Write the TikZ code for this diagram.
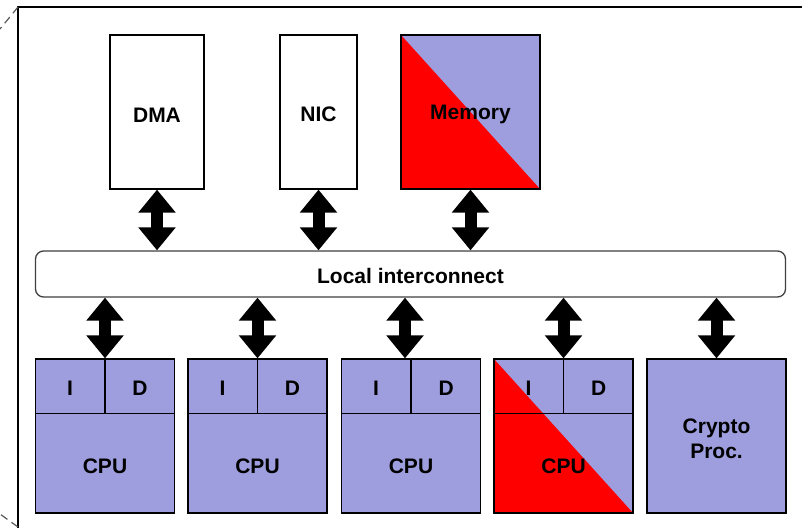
\documentclass[tikz,border=0pt]{standalone}
\usepackage{fontspec}
\setmainfont{Liberation Sans}
\usetikzlibrary{arrows.meta,calc}
\definecolor{lav}{HTML}{9E9EDE}
\definecolor{hot}{HTML}{FF0000}
% invisible strut that lowers single-line labels a little
\newcommand\tallstrut{\rule{0pt}{20pt}}
\tikzset{
  unit/.style={draw=black, line width=1.3pt, inner sep=0pt, align=center,
    font=\fontsize{21}{25}\selectfont\bfseries},
  whitebox/.style={unit, fill=white, minimum width=#1, minimum height=154pt},
  core/.style={unit, fill=lav, minimum width=139pt, minimum height=154pt},
  split/.style={path picture={
      \fill[lav] (path picture bounding box.north west) rectangle (path picture bounding box.south east);
      \fill[hot] (path picture bounding box.north west) -- (path picture bounding box.south west)
        -- (path picture bounding box.south east) -- cycle;}},
  link/.style={line width=12pt,
    {Triangle[width=36pt,length=23pt]}-{Triangle[width=36pt,length=23pt]}},
  lbl/.style={font=\fontsize{21}{25}\selectfont\bfseries, inner sep=0pt},
  divider/.style={line width=1.3pt},
  cornerdash/.style={line width=1.2pt, black!65, dash pattern=on 8pt off 5pt}
}
\begin{document}
\begin{tikzpicture}[x=1pt, y=-1pt]
\useasboundingbox (0,0) rectangle (802,527);
\begin{scope}
\clip (0,0) rectangle (802,527);
% enclosing frame
\draw[line width=2pt] (18,540) -- (18,7) -- (820,7);
\draw[cornerdash] (18,7) -- (0,29);
\draw[cornerdash] (18,527) -- (0,514);

% upper devices
\node[whitebox=94pt] (dma) at (157,112) {\tallstrut DMA};
\node[whitebox=77pt] (nic) at (318.5,112) {\tallstrut NIC};
\node[unit, split, minimum width=139pt, minimum height=154pt] (mem) at (470.5,112) {\tallstrut Memory};

% interconnect
\node[unit, fill=white, draw=black!75, rounded corners=8pt, minimum width=750pt,
  minimum height=46pt] (ic) at (410.5,274) {\tallstrut Local interconnect};

% processors
\node[core] (c1) at (105,436) {};
\node[core] (c2) at (257.5,436) {};
\node[core] (c3) at (411,436) {};
\node[core, split] (c4) at (563.5,436) {};
\node[core] (cr) at (716.5,436) {\tallstrut Crypto\\Proc.};

\foreach \c in {c1,c2,c3,c4} {
  \coordinate (\c-l) at ([yshift=-55pt]\c.north west);
  \coordinate (\c-r) at ([yshift=-55pt]\c.north east);
  \coordinate (\c-m) at ([yshift=-55pt]\c.north);
  \draw[divider] (\c-l) -- (\c-r);
  \draw[divider] (\c.north) -- (\c-m);
  \node[lbl] (\c-i) at ($(\c.north west)!0.5!(\c-m)$) {\tallstrut I};
  \node[lbl] (\c-d) at ($(\c.north east)!0.5!(\c-m)$) {\tallstrut D};
  \node[lbl] (\c-cpu) at ($(\c-m)!0.5!(\c.south)$) {\tallstrut CPU};
}

% links to the interconnect
\draw[link] (dma.south) -- (dma.south |- ic.north);
\draw[link] (nic.south) -- (nic.south |- ic.north);
\draw[link] (mem.south) -- (mem.south |- ic.north);
\draw[link] (c1.north |- ic.south) -- (c1.north);
\draw[link] (c2.north |- ic.south) -- (c2.north);
\draw[link] ([xshift=-6pt]c3.north |- ic.south) -- ([xshift=-6pt]c3.north);
\draw[link] (c4.north |- ic.south) -- (c4.north);
\draw[link] (cr.north |- ic.south) -- (cr.north);
\end{scope}
\end{tikzpicture}
\end{document}
